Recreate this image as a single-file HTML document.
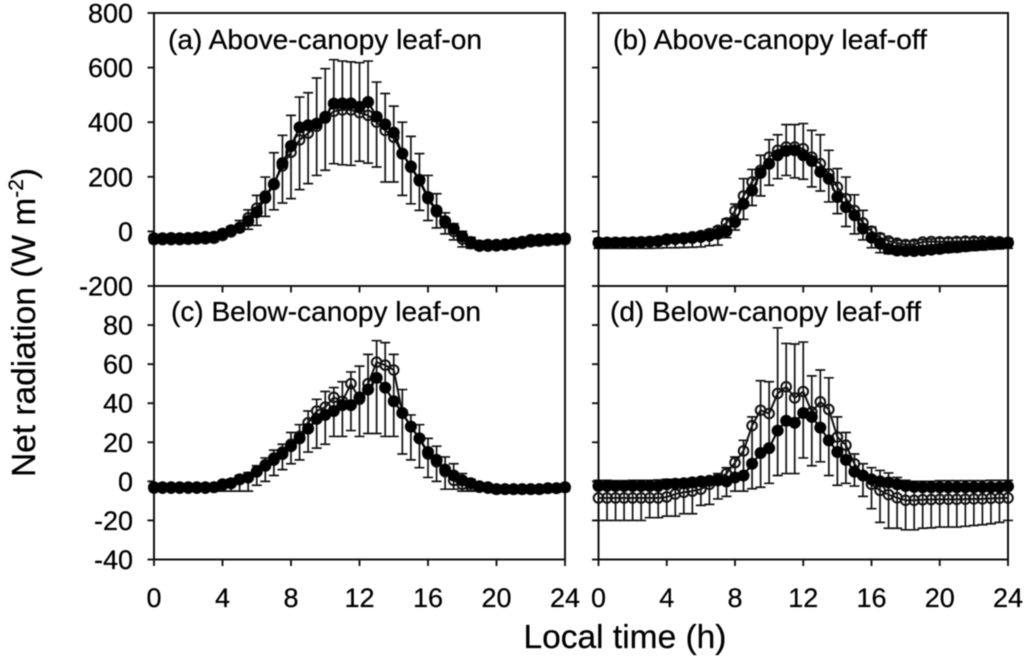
<!DOCTYPE html>
<html lang="en">
<head>
<meta charset="utf-8">
<title>Net radiation panels</title>
<style>
html,body{margin:0;padding:0;background:#fff;}
svg{display:block;filter:blur(0.5px);}
text{font-family:"Liberation Sans",Arial,sans-serif;fill:#000;stroke:#000;stroke-width:0.25px;}
</style>
</head>
<body>
<svg id="chart" xmlns="http://www.w3.org/2000/svg" width="1024" height="658" viewBox="0 0 1024 658">
  <text x="168" y="49" font-size="28" textLength="314" lengthAdjust="spacingAndGlyphs">(a) Above-canopy leaf-on</text>
  <text x="613" y="49" font-size="28" textLength="314" lengthAdjust="spacingAndGlyphs">(b) Above-canopy leaf-off</text>
  <text x="171" y="321" font-size="28" textLength="310" lengthAdjust="spacingAndGlyphs">(c) Below-canopy leaf-on</text>
  <text x="610" y="321" font-size="28" textLength="311" lengthAdjust="spacingAndGlyphs">(d) Below-canopy leaf-off</text>
  <text x="625" y="648" font-size="33.5" text-anchor="middle">Local time (h)</text>
  <text transform="translate(35,322.5) rotate(-90)" font-size="33.5" text-anchor="middle">Net radiation (W m<tspan font-size="21" dy="-12">-2</tspan><tspan dy="12">)</tspan></text>
</svg>
<script>
const hourTicks = [0, 4, 8, 12, 16, 20, 24];
const upperTicks = [800, 600, 400, 200, 0, -200];
const lowerTicks = [80, 60, 40, 20, 0, -20, -40];

const aFilled = [-25,-25,-24,-25,-24,-22,-20,-19,-8,4,13,38,70,123,172,250,313,381,389,395,420,468,469,469,456,474,420,392,362,285,238,189,126,77,37,10,-18,-39,-51,-49,-49,-47,-43,-38,-31,-30,-28,-27,-25];
const aOpen = [-30,-30,-30,-30,-29,-28,-27,-25,-15,-2,15,50,85,130,175,240,290,335,360,385,415,440,445,445,435,425,400,370,345,285,235,185,120,72,30,0,-28,-45,-54,-54,-53,-51,-48,-44,-38,-36,-34,-32,-30];
const aUpper = [-12,-12,-11,-12,-11,-10,-8,-6,4,18,40,79,132,199,288,352,425,492,508,562,596,629,624,621,618,624,547,505,459,400,348,285,205,138,68,28,0,-22,-35,-38,-38,-36,-32,-27,-20,-18,-16,-14,-12];
const aLower = [-42,-43,-42,-43,-42,-41,-40,-38,-25,-12,0,8,22,55,79,104,120,153,175,205,224,248,244,242,257,250,236,181,181,132,101,77,40,13,-9,-31,-57,-62,-66,-66,-65,-63,-60,-56,-52,-50,-48,-46,-42];

const bFilled = [-42,-42,-42,-41,-41,-40,-38,-36,-30,-28,-26,-24,-20,-16,-9,1,34,101,150,214,248,279,295,297,279,258,218,193,126,89,59,10,-23,-45,-64,-70,-72,-72,-70,-67,-64,-60,-58,-55,-51,-49,-45,-45,-42];
const bOpen = [-40,-40,-40,-40,-39,-38,-37,-35,-28,-26,-24,-20,-15,-8,4,31,75,130,181,224,272,297,309,309,303,272,248,211,162,120,77,31,1,-23,-35,-43,-48,-47,-39,-37,-38,-38,-37,-36,-36,-36,-37,-38,-40];
const bUpper = [-26,-26,-26,-25,-25,-24,-23,-21,-16,-14,-12,-8,-3,5,16,45,100,193,227,279,336,354,391,391,395,370,354,297,230,199,134,77,16,-9,-25,-33,-36,-36,-30,-28,-25,-25,-24,-23,-24,-24,-25,-26,-26];
const bLower = [-62,-62,-62,-62,-62,-62,-62,-61,-60,-60,-59,-58,-57,-52,-50,-23,5,44,95,130,169,193,205,196,191,163,148,108,65,18,-9,-31,-60,-78,-82,-84,-85,-84,-83,-81,-79,-77,-75,-72,-70,-68,-66,-64,-62];

const cFilled = [-3,-3,-3,-3,-3,-3,-3,-3,-1.5,-1,1,2,5,8,11,14,18,22,27,32,34,36,39,39,43,47,53,48,41,35,28,22,15,11,6,3,0.5,-1,-2.5,-3,-4,-4,-4,-4,-4,-4,-3.5,-3.5,-3];
const cOpen = [-3.5,-3.5,-3.5,-3.5,-3.5,-3.5,-3.5,-3,-2,-1,1,2,5,8.5,12,15,19,23,30,36,38,43,41,50,42,50,61,59.5,57,35,28,22,14,10,5,0.5,-1.5,-2.5,-3,-3.5,-4,-4,-4,-4,-4,-4,-3.5,-3.5,-3];
const cUpper = [-2,-2,-2,-2,-2,-2,-2,-1.5,0,1,3,4.5,8,12,16,19,25,29,36,42,46,48,51,56,59,65,72,71,65,47,34,29,22,18,12.5,9,4,1,-1,-2,-3,-3,-3,-3,-3,-3,-2.5,-2.5,-2];
const cLower = [-5,-5,-5,-5,-5,-5,-5,-5,-5,-5,-5,-5,-2,0,3,6,9,11,15,17,19,23,23,26,23,24.5,24.5,23,23,14,11,7,2,0,-4,-4,-5,-5,-5,-5,-6,-6,-6,-6,-6,-6,-5.5,-5.5,-5];

const dFilled = [-2.4,-2.4,-2.4,-2.4,-2.4,-2.4,-2.4,-2.4,-1.5,-1.2,-1,-0.5,0,0.3,0.5,0,2,3,9,14.5,17,26,31,30,35,33,27.5,21,15,11,5,3,1,0,-0.5,-1.5,-2.4,-2.8,-3,-3,-3,-3,-3,-3,-3,-3,-3,-3,-2.6];
const dOpen = [-8.5,-8.5,-8.5,-8.5,-8.5,-8.5,-8.5,-8.5,-8,-6.5,-5.6,-5,-4,-1.5,1.3,4,9.6,15.6,28.5,36.4,34.7,45,48.4,42.7,46,35.5,40.7,36.8,22.7,18.5,9,3,-1.5,-4.6,-6.8,-8.4,-9.7,-9.7,-9.4,-9.3,-9.2,-9.2,-9.2,-9.1,-9,-9,-8.7,-8.6,-8.5];
const dUpper = [0.5,0.5,0.3,0.3,0.5,0.5,0.5,0.7,1,1,1,1.5,1.5,2,4,7,12.5,21,33,51.5,51,78.6,70.6,70.3,71.3,54,57,53,33,25,14,9,7,5.6,4.3,2,0.5,0,0,0,0.3,0.3,0.3,0.3,0.3,0.3,0.5,0.5,0.5];
const dLower = [-20,-20,-20,-20,-20,-20,-18.6,-18.6,-17.8,-17.8,-16.6,-16.6,-12.3,-11.8,-9,-7.7,-5,-5,-3.8,-3,-1,3,4,4,12,8,10,3,-2,-1,-2.4,-7.7,-14,-21,-24,-24,-24.8,-24.8,-24,-23.8,-23.4,-23.4,-23.4,-23,-22.6,-22.2,-21.7,-21,-20];

const NS = 'http://www.w3.org/2000/svg';
const root = document.getElementById('chart');
const INK = '#111';
const CAP = 5;

function mk(parent, tag, attrs) {
  const el = document.createElementNS(NS, tag);
  for (const k in attrs) el.setAttribute(k, attrs[k]);
  parent.appendChild(el);
  return el;
}
function seg(parent, x1, y1, x2, y2, w) {
  return mk(parent, 'line', { x1: x1, y1: y1, x2: x2, y2: y2, stroke: INK, 'stroke-width': w });
}
function makeScale(d0, d1, r0, r1) {
  return function (v) { return r0 + (v - d0) * (r1 - r0) / (d1 - d0); };
}

function drawPanel(cfg) {
  const g = mk(root, 'g', {});
  
  
  const xScale = makeScale(0, 24, cfg.x0, cfg.x1);
  const yScale = makeScale(cfg.yMin, cfg.yMax, cfg.y0, cfg.y1);

  const frame = mk(g, 'rect', { x: cfg.x0, y: cfg.y1, width: cfg.x1 - cfg.x0, height: cfg.y0 - cfg.y1, fill: 'none', stroke: INK, 'stroke-width': 2 });
  
  

  hourTicks.forEach(function (h) {
    const tick = seg(g, xScale(h), cfg.y0, xScale(h), cfg.y0 + 6.5, 1.9);
    
    
    if (cfg.xLabels) {
      const lab = mk(g, 'text', { x: xScale(h), y: 607, 'font-size': 27, 'text-anchor': 'middle' });
      lab.textContent = h;
      
      
    }
  });

  cfg.ticks.forEach(function (v) {
    const tick = seg(g, cfg.x0 - 6.5, yScale(v), cfg.x0, yScale(v), 1.9);
    
    
    if (cfg.yLabels) {
      const lab = mk(g, 'text', { x: 133, y: yScale(v) + 9.5, 'font-size': 27, 'text-anchor': 'end' });
      lab.textContent = v;
      
      
    }
  });

  const hourOf = function (i) { return i * 0.5; };

  cfg.upper.forEach(function (top, i) {
    const x = xScale(hourOf(i));
    const bar = mk(g, 'path', {
      d: 'M' + (x - CAP) + ' ' + yScale(top) + 'H' + (x + CAP) +
         'M' + x + ' ' + yScale(top) + 'V' + yScale(cfg.lower[i]) +
         'M' + (x - CAP) + ' ' + yScale(cfg.lower[i]) + 'H' + (x + CAP),
      fill: 'none', stroke: INK, 'stroke-width': 1.7
    });
    
    
  });

  const linePoints = function (arr) {
    return arr.map(function (v, i) { return xScale(hourOf(i)) + ',' + yScale(v); }).join(' ');
  };

  const openLine = mk(g, 'polyline', { points: linePoints(cfg.open), fill: 'none', stroke: INK, 'stroke-width': 2 });
  
  
  cfg.open.forEach(function (v, i) {
    const c = mk(g, 'circle', { cx: xScale(hourOf(i)), cy: yScale(v), r: 4.8, fill: 'none', stroke: INK, 'stroke-width': 2 });
    
    
  });

  const filledLine = mk(g, 'polyline', { points: linePoints(cfg.filled), fill: 'none', stroke: '#000', 'stroke-width': 2 });
  
  
  cfg.filled.forEach(function (v, i) {
    const c = mk(g, 'circle', { cx: xScale(hourOf(i)), cy: yScale(v), r: 6, fill: '#000' });
    
    
  });
}

drawPanel({ name: 'panel-a-above-canopy-leaf-on', x0: 154, x1: 565, y0: 286, y1: 13, yMin: -200, yMax: 800, ticks: upperTicks, yLabels: true, xLabels: false, filled: aFilled, open: aOpen, upper: aUpper, lower: aLower });
drawPanel({ name: 'panel-b-above-canopy-leaf-off', x0: 598.5, x1: 1008, y0: 286, y1: 13, yMin: -200, yMax: 800, ticks: upperTicks, yLabels: false, xLabels: false, filled: bFilled, open: bOpen, upper: bUpper, lower: bLower });
drawPanel({ name: 'panel-c-below-canopy-leaf-on', x0: 154, x1: 565, y0: 559.5, y1: 286, yMin: -40, yMax: 100, ticks: lowerTicks, yLabels: true, xLabels: true, filled: cFilled, open: cOpen, upper: cUpper, lower: cLower });
drawPanel({ name: 'panel-d-below-canopy-leaf-off', x0: 598.5, x1: 1008, y0: 559.5, y1: 286, yMin: -40, yMax: 100, ticks: lowerTicks, yLabels: false, xLabels: true, filled: dFilled, open: dOpen, upper: dUpper, lower: dLower });
</script>
</body>
</html>
